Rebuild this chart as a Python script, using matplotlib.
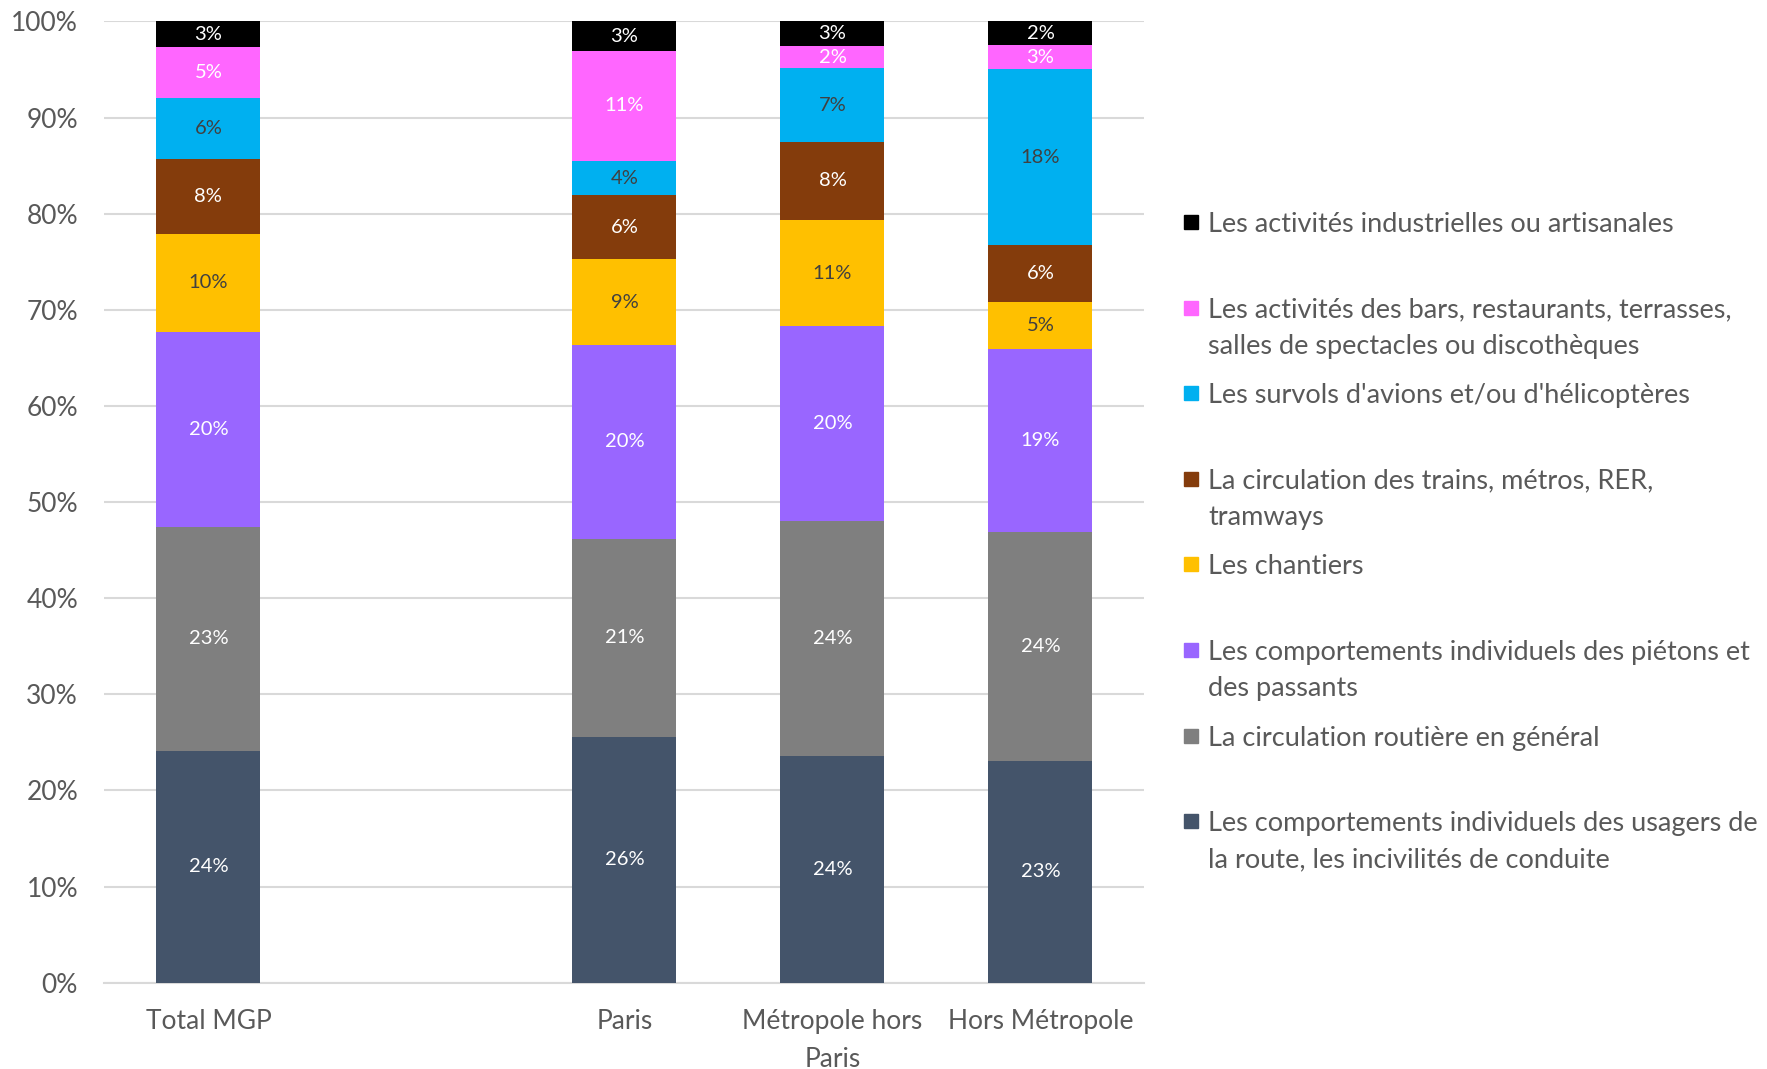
import matplotlib.pyplot as plt
import numpy as np

# zones (one empty slot between Total MGP and Paris, like in the source chart)
zones = ['Total MGP', '', 'Paris', 'Métropole hors\nParis', 'Hors Métropole']

# series from bottom to top of the stack (values in %, empty slot = nan)
series_names = [
    'Les comportements individuels des usagers de\nla route, les incivilités de conduite',
    'La circulation routière en général',
    'Les comportements individuels des piétons et\ndes passants',
    'Les chantiers',
    'La circulation des trains, métros, RER,\ntramways',
    "Les survols d'avions et/ou d'hélicoptères",
    'Les activités des bars, restaurants, terrasses,\nsalles de spectacles ou discothèques',
    'Les activités industrielles ou artisanales',
]
usagers = [24.1, np.nan, 25.6, 23.6, 23.1]
routiere = [23.3, np.nan, 20.6, 24.4, 23.8]
pietons = [20.3, np.nan, 20.1, 20.3, 19.0]
chantiers = [10.2, np.nan, 9.0, 11.0, 4.9]
trains = [7.8, np.nan, 6.6, 8.2, 5.9]
avions = [6.3, np.nan, 3.6, 7.6, 18.3]
bars = [5.3, np.nan, 11.4, 2.3, 2.5]
industrie = [2.7, np.nan, 3.1, 2.6, 2.5]

colors = ['#44546A', '#7F7F7F', '#9966FF', '#FFC000', '#843C0C', '#00B0F0', '#FF66FF', '#000000']
label_colors = ['white', 'white', 'white', '#404040', 'white', '#404040', 'white', 'white']

data = np.array([usagers, routiere, pietons, chantiers, trains, avions, bars, industrie])
# labels shown by Excel, rounded
shown = [[24, 23, 20, 10, 8, 6, 5, 3],
         None,
         [26, 21, 20, 9, 6, 4, 11, 3],
         [24, 24, 20, 11, 8, 7, 2, 3],
         [23, 24, 19, 5, 6, 18, 3, 2]]

plt.rcParams['font.family'] = ['Lato', 'DejaVu Sans']
text_grey = '#595959'

fig = plt.figure(figsize=(17.67, 10.69), dpi=100)
ax = fig.add_axes([0.0591, 0.0808, 0.5886, 0.8992])

x = np.arange(len(zones))
bottom = np.zeros(len(zones))
for i in range(len(series_names)):
    vals = np.nan_to_num(data[i])
    ax.bar(x, vals, 0.5, bottom=bottom, color=colors[i], zorder=3)
    for j in range(len(zones)):
        if shown[j] is None:
            continue
        ax.text(x[j], bottom[j] + vals[j] / 2, f'{shown[j][i]}%', ha='center', va='center',
                fontsize=14.5, color=label_colors[i], zorder=4)
    bottom = bottom + vals

ax.set_xlim(-0.5, len(zones) - 0.5)
ax.set_ylim(0, 100)
ax.set_yticks(np.arange(0, 101, 10))
ax.set_yticklabels([f'{v}%' for v in range(0, 101, 10)])
ax.set_xticks(x)
ax.set_xticklabels(zones, linespacing=1.65)
ax.tick_params(axis='y', length=0, pad=19, labelsize=19, labelcolor=text_grey)
ax.tick_params(axis='x', length=0, pad=19, labelsize=19, labelcolor=text_grey)
ax.grid(axis='y', color='#D9D9D9', linewidth=1.5, zorder=0)
for s in ['left', 'right', 'top']:
    ax.spines[s].set_visible(False)
ax.spines['bottom'].set_color('#D9D9D9')
ax.spines['bottom'].set_linewidth(1.5)

# legend drawn by hand, top entry = top of the stack
W, H = 1767, 1069
for k, i in enumerate(range(len(series_names) - 1, -1, -1)):
    y0 = 222 + k * 85.6
    fig.patches.append(plt.Rectangle((1184 / W, 1 - (y0 + 7) / H), 14 / W, 14 / H,
                                     transform=fig.transFigure, color=colors[i]))
    for n, line in enumerate(series_names[i].split('\n')):
        fig.text(1208 / W, 1 - (y0 + n * 36) / H, line, fontsize=19.5, color=text_grey,
                 ha='left', va='center_baseline')

fig.savefig('out.png', dpi=100)
